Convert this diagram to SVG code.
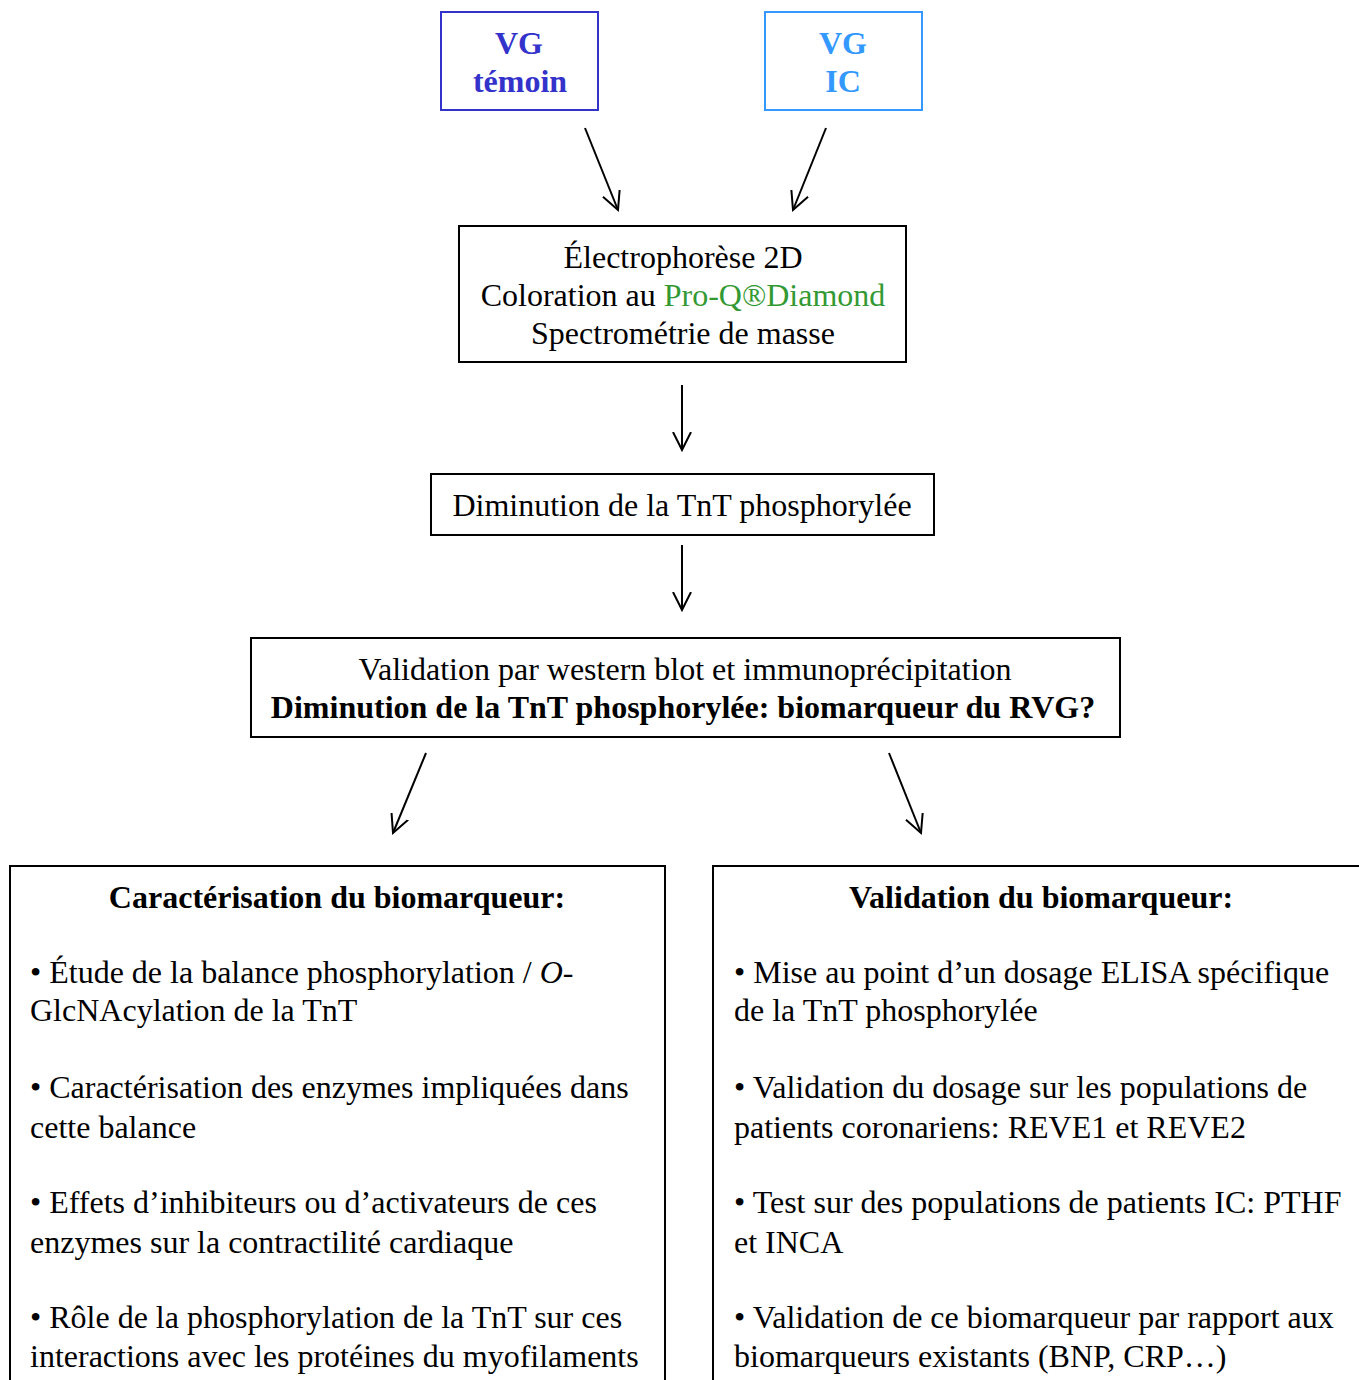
<svg xmlns="http://www.w3.org/2000/svg" width="1359" height="1380" viewBox="0 0 1359 1380">
<defs>
<style>
text{font-family:"Liberation Serif","Times New Roman",serif;font-size:32px;fill:#000}
.b{font-weight:bold}
.box{fill:#fff;stroke:#000;stroke-width:2}
.c{text-anchor:middle}
.ln{stroke:#000;stroke-width:2;fill:none}
</style>
<marker id="ah" viewBox="0 0 20 20" refX="18" refY="10" markerWidth="20" markerHeight="20" markerUnits="userSpaceOnUse" orient="auto">
<path d="M0,1 L18,10 L0,19" fill="none" stroke="#000" stroke-width="2"/>
</marker>
</defs>
<rect width="1359" height="1380" fill="#fff"/>
<g id="n-temoin">
<rect x="441" y="12" width="157" height="98" fill="#fff" stroke="#3333CC" stroke-width="2"/>
<text class="b c" x="519" y="54" style="fill:#3333CC">VG</text>
<text class="b c" x="520" y="92" style="fill:#3333CC">témoin</text>
</g>
<g id="n-ic">
<rect x="765" y="12" width="157" height="98" fill="#fff" stroke="#3399FF" stroke-width="2"/>
<text class="b c" x="843" y="54" style="fill:#3399FF">VG</text>
<text class="b c" x="843" y="92" style="fill:#3399FF">IC</text>
</g>
<g id="n-electro">
<rect class="box" x="459" y="226" width="447" height="136"/>
<text class="c" x="683" y="268">Électrophorèse 2D</text>
<text class="c" x="683" y="306">Coloration au <tspan style="fill:#339933">Pro-Q®Diamond</tspan></text>
<text class="c" x="683" y="344">Spectrométrie de masse</text>
</g>
<g id="n-dim">
<rect class="box" x="431" y="474" width="503" height="61"/>
<text class="c" x="682" y="516">Diminution de la TnT phosphorylée</text>
</g>
<g id="n-valid">
<rect class="box" x="251" y="638" width="869" height="99"/>
<text class="c" x="685" y="680">Validation par western blot et immunoprécipitation</text>
<text class="b c" x="683" y="718">Diminution de la TnT phosphorylée: biomarqueur du RVG?</text>
</g>
<g id="n-carac">
<rect class="box" x="10" y="866" width="655" height="530"/>
<text class="b c" x="337" y="908">Caractérisation du biomarqueur:</text>
<text x="30" y="983">• Étude de la balance phosphorylation / <tspan font-style="italic">O</tspan>-</text>
<text x="30" y="1021">GlcNAcylation de la TnT</text>
<text x="30" y="1098">• Caractérisation des enzymes impliquées dans</text>
<text x="30" y="1138">cette balance</text>
<text x="30" y="1213">• Effets d’inhibiteurs ou d’activateurs de ces</text>
<text x="30" y="1253">enzymes sur la contractilité cardiaque</text>
<text x="30" y="1328">• Rôle de la phosphorylation de la TnT sur ces</text>
<text x="30" y="1367">interactions avec les protéines du myofilaments</text>
</g>
<g id="n-validbio">
<rect class="box" x="713" y="866" width="660" height="530"/>
<text class="b c" x="1041" y="908">Validation du biomarqueur:</text>
<text x="734" y="983">• Mise au point d’un dosage ELISA spécifique</text>
<text x="734" y="1021">de la TnT phosphorylée</text>
<text x="734" y="1098">• Validation du dosage sur les populations de</text>
<text x="734" y="1138">patients coronariens: REVE1 et REVE2</text>
<text x="734" y="1213">• Test sur des populations de patients IC: PTHF</text>
<text x="734" y="1253">et INCA</text>
<text x="734" y="1328">• Validation de ce biomarqueur par rapport aux</text>
<text x="734" y="1367">biomarqueurs existants (BNP, CRP…)</text>
</g>
<g id="connectors">
<line class="ln" x1="585" y1="128" x2="618" y2="210" marker-end="url(#ah)"/>
<line class="ln" x1="826" y1="128" x2="793" y2="210" marker-end="url(#ah)"/>
<line class="ln" x1="682" y1="385" x2="682" y2="450" marker-end="url(#ah)"/>
<line class="ln" x1="682" y1="545" x2="682" y2="610" marker-end="url(#ah)"/>
<line class="ln" x1="426" y1="753" x2="393" y2="833" marker-end="url(#ah)"/>
<line class="ln" x1="889" y1="753" x2="921" y2="833" marker-end="url(#ah)"/>
</g>
</svg>
